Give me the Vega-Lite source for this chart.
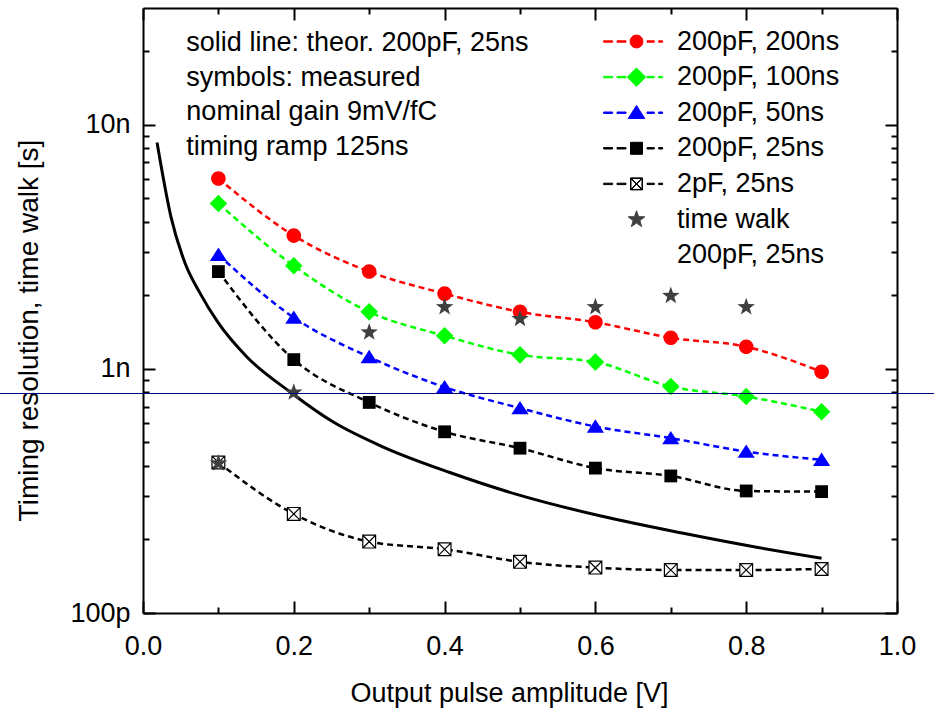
{
  "$schema": "https://vega.github.io/schema/vega-lite/v6.json",
  "width": 754,
  "height": 605,
  "autosize": {"type": "none"},
  "padding": {"left": 143, "top": 8, "right": 37, "bottom": 97},
  "background": "white",
  "config": {
    "view": {"stroke": null},
    "font": "Liberation Sans",
    "axis": {
      "domainColor": "black", "domainWidth": 2, "tickColor": "black", "tickWidth": 2,
      "labelFont": "Liberation Sans", "labelFontSize": 27, "labelColor": "black",
      "titleFont": "Liberation Sans", "titleFontSize": 28, "titleFontWeight": "normal", "titleColor": "black",
      "grid": false, "labelFlush": false, "labelOverlap": false
    },
    "legend": {"labelFont": "Liberation Sans", "labelColor": "black"}
  },
  "datasets": {
    "meas": [
      {"series": "200pF, 200ns", "amp": 0.1, "t": 6.01e-9},
      {"series": "200pF, 200ns", "amp": 0.2, "t": 3.51e-9},
      {"series": "200pF, 200ns", "amp": 0.3, "t": 2.50e-9},
      {"series": "200pF, 200ns", "amp": 0.4, "t": 2.03e-9},
      {"series": "200pF, 200ns", "amp": 0.5, "t": 1.71e-9},
      {"series": "200pF, 200ns", "amp": 0.6, "t": 1.55e-9},
      {"series": "200pF, 200ns", "amp": 0.7, "t": 1.34e-9},
      {"series": "200pF, 200ns", "amp": 0.8, "t": 1.23e-9},
      {"series": "200pF, 200ns", "amp": 0.9, "t": 0.972e-9},
      {"series": "200pF, 100ns", "amp": 0.1, "t": 4.75e-9},
      {"series": "200pF, 100ns", "amp": 0.2, "t": 2.64e-9},
      {"series": "200pF, 100ns", "amp": 0.3, "t": 1.71e-9},
      {"series": "200pF, 100ns", "amp": 0.4, "t": 1.365e-9},
      {"series": "200pF, 100ns", "amp": 0.5, "t": 1.14e-9},
      {"series": "200pF, 100ns", "amp": 0.6, "t": 1.065e-9},
      {"series": "200pF, 100ns", "amp": 0.7, "t": 0.846e-9},
      {"series": "200pF, 100ns", "amp": 0.8, "t": 0.770e-9},
      {"series": "200pF, 100ns", "amp": 0.9, "t": 0.667e-9},
      {"series": "200pF, 50ns", "amp": 0.1, "t": 2.93e-9},
      {"series": "200pF, 50ns", "amp": 0.2, "t": 1.62e-9},
      {"series": "200pF, 50ns", "amp": 0.3, "t": 1.117e-9},
      {"series": "200pF, 50ns", "amp": 0.4, "t": 0.841e-9},
      {"series": "200pF, 50ns", "amp": 0.5, "t": 0.690e-9},
      {"series": "200pF, 50ns", "amp": 0.6, "t": 0.580e-9},
      {"series": "200pF, 50ns", "amp": 0.7, "t": 0.520e-9},
      {"series": "200pF, 50ns", "amp": 0.8, "t": 0.458e-9},
      {"series": "200pF, 50ns", "amp": 0.9, "t": 0.424e-9},
      {"series": "200pF, 25ns", "amp": 0.1, "t": 2.50e-9},
      {"series": "200pF, 25ns", "amp": 0.2, "t": 1.09e-9},
      {"series": "200pF, 25ns", "amp": 0.3, "t": 0.728e-9},
      {"series": "200pF, 25ns", "amp": 0.4, "t": 0.552e-9},
      {"series": "200pF, 25ns", "amp": 0.5, "t": 0.473e-9},
      {"series": "200pF, 25ns", "amp": 0.6, "t": 0.392e-9},
      {"series": "200pF, 25ns", "amp": 0.7, "t": 0.364e-9},
      {"series": "200pF, 25ns", "amp": 0.8, "t": 0.316e-9},
      {"series": "200pF, 25ns", "amp": 0.9, "t": 0.314e-9},
      {"series": "2pF, 25ns", "amp": 0.1, "t": 0.413e-9},
      {"series": "2pF, 25ns", "amp": 0.2, "t": 0.2545e-9},
      {"series": "2pF, 25ns", "amp": 0.3, "t": 0.196e-9},
      {"series": "2pF, 25ns", "amp": 0.4, "t": 0.1824e-9},
      {"series": "2pF, 25ns", "amp": 0.5, "t": 0.162e-9},
      {"series": "2pF, 25ns", "amp": 0.6, "t": 0.1534e-9},
      {"series": "2pF, 25ns", "amp": 0.7, "t": 0.150e-9},
      {"series": "2pF, 25ns", "amp": 0.8, "t": 0.150e-9},
      {"series": "2pF, 25ns", "amp": 0.9, "t": 0.1515e-9}
    ],
    "theory": [
      {"amp": 0.0186, "t": 8.44e-9},
      {"amp": 0.037, "t": 4.2e-9},
      {"amp": 0.0557, "t": 2.71e-9},
      {"amp": 0.0756, "t": 2.04e-9},
      {"amp": 0.0999, "t": 1.54e-9},
      {"amp": 0.1375, "t": 1.12e-9},
      {"amp": 0.196, "t": 0.80e-9},
      {"amp": 0.2524, "t": 0.605e-9},
      {"amp": 0.3187, "t": 0.478e-9},
      {"amp": 0.407, "t": 0.376e-9},
      {"amp": 0.4956, "t": 0.306e-9},
      {"amp": 0.606, "t": 0.250e-9},
      {"amp": 0.7166, "t": 0.212e-9},
      {"amp": 0.805, "t": 0.188e-9},
      {"amp": 0.9, "t": 0.1676e-9}
    ],
    "walk": [
      {"amp": 0.1, "t": 0.41e-9},
      {"amp": 0.2, "t": 0.80e-9},
      {"amp": 0.3, "t": 1.41e-9},
      {"amp": 0.4, "t": 1.79e-9},
      {"amp": 0.5, "t": 1.60e-9},
      {"amp": 0.6, "t": 1.79e-9},
      {"amp": 0.7, "t": 1.99e-9},
      {"amp": 0.8, "t": 1.79e-9}
    ],
    "legendItems": [
      {"entry": "200pF, 200ns"},
      {"entry": "200pF, 100ns"},
      {"entry": "200pF, 50ns"},
      {"entry": "200pF, 25ns"},
      {"entry": "2pF, 25ns"},
      {"entry": "time walk"},
      {"entry": " 200pF, 25ns"}
    ]
  },
  "resolve": {"axis": {"x": "independent", "y": "independent"}, "scale": {"shape": "independent", "fill": "independent", "stroke": "independent"}},
  "layer": [
    {
      "data": {"name": "theory"},
      "mark": {"type": "line", "color": "black", "strokeWidth": 3, "interpolate": "monotone"},
      "encoding": {
        "x": {"field": "amp", "type": "quantitative", "scale": {"domain": [0, 1], "nice": false, "zero": false},
          "axis": {"orient": "bottom", "values": [0, 0.2, 0.4, 0.6, 0.8, 1], "format": ".1f", "ticks": false, "tickSize": 0, "labelPadding": 20, "title": "Output pulse amplitude [V]", "titleFontSize": 27, "titlePadding": 21, "titleX": 366}},
        "y": {"field": "t", "type": "quantitative", "scale": {"type": "log", "domain": [1e-10, 3e-8], "nice": false},
          "axis": {"orient": "left", "values": [1e-10, 1e-9, 1e-8], "labelExpr": "datum.value < 5e-10 ? '100p' : datum.value < 5e-9 ? '1n' : '10n'", "ticks": false, "tickSize": 0, "labelPadding": 13, "title": "Timing resolution, time walk [s]", "titlePadding": 26, "titleY": 322}}
      }
    },
    {
      "data": {"name": "meas"},
      "mark": {"type": "line", "strokeWidth": 2.5, "strokeDash": [6, 4], "interpolate": "monotone"},
      "encoding": {
        "x": {"field": "amp", "type": "quantitative", "scale": {"domain": [0, 1], "nice": false, "zero": false},
          "axis": {"orient": "bottom", "offset": -12, "values": [0, 0.2, 0.4, 0.6, 0.8, 1], "tickSize": 12, "labels": false, "domain": false, "title": null}},
        "y": {"field": "t", "type": "quantitative", "scale": {"type": "log", "domain": [1e-10, 3e-8], "nice": false},
          "axis": {"orient": "left", "offset": -12, "values": [1e-10, 1e-9, 1e-8], "tickSize": 12, "labels": false, "domain": false, "title": null}},
        "color": {"field": "series", "type": "nominal", "legend": null,
          "scale": {"domain": ["200pF, 200ns", "200pF, 100ns", "200pF, 50ns", "200pF, 25ns", "2pF, 25ns"], "range": ["#ff0000", "#00ff00", "#0000ff", "#000000", "#000000"]}},
        "detail": {"field": "series"}
      }
    },
    {
      "data": {"name": "meas"},
      "transform": [{"filter": "datum.series != '2pF, 25ns'"}],
      "mark": {"type": "point", "filled": true, "opacity": 1, "size": 400, "strokeWidth": 0},
      "encoding": {
        "x": {"field": "amp", "type": "quantitative", "scale": {"domain": [0, 1], "nice": false, "zero": false},
          "axis": {"orient": "bottom", "offset": -6, "values": [0.1, 0.3, 0.5, 0.7, 0.9], "tickSize": 6, "labels": false, "domain": false, "title": null}},
        "y": {"field": "t", "type": "quantitative", "scale": {"type": "log", "domain": [1e-10, 3e-8], "nice": false},
          "axis": {"orient": "left", "offset": -6, "values": [2e-10, 3e-10, 4e-10, 5e-10, 6e-10, 7e-10, 8e-10, 9e-10, 2e-9, 3e-9, 4e-9, 5e-9, 6e-9, 7e-9, 8e-9, 9e-9, 2e-8], "tickSize": 6, "labels": false, "domain": false, "title": null}},
        "color": {"field": "series", "type": "nominal", "legend": null,
          "scale": {"domain": ["200pF, 200ns", "200pF, 100ns", "200pF, 50ns", "200pF, 25ns", "2pF, 25ns"], "range": ["#ff0000", "#00ff00", "#0000ff", "#000000", "#000000"]}},
        "shape": {"field": "series", "type": "nominal", "legend": null,
          "scale": {"domain": ["200pF, 200ns", "200pF, 100ns", "200pF, 50ns", "200pF, 25ns"],
            "range": [
              "M0.73,0A0.73,0.73,0,1,1,-0.73,0A0.73,0.73,0,1,1,0.73,0Z",
              "M0,-0.88L0.88,0L0,0.88L-0.88,0Z",
              "M0,-0.72L0.86,0.62L-0.86,0.62Z",
              "M-0.64,-0.64H0.64V0.64H-0.64Z"
            ]}}
      }
    },
    {
      "data": {"name": "meas"},
      "transform": [{"filter": "datum.series == '2pF, 25ns'"}],
      "mark": {"type": "point", "opacity": 1, "size": 400, "fill": "white", "stroke": "black", "strokeWidth": 1.2,
        "shape": "M-0.64,-0.64H0.64V0.64H-0.64Z M-0.64,-0.64L0.64,0.64 M0.64,-0.64L-0.64,0.64"},
      "encoding": {
        "x": {"field": "amp", "type": "quantitative", "scale": {"domain": [0, 1], "nice": false, "zero": false},
          "axis": {"orient": "top", "values": [0, 0.2, 0.4, 0.6, 0.8, 1], "ticks": false, "labels": false, "domain": true, "title": null}},
        "y": {"field": "t", "type": "quantitative", "scale": {"type": "log", "domain": [1e-10, 3e-8], "nice": false},
          "axis": {"orient": "right", "values": [1e-10, 1e-9, 1e-8], "ticks": false, "labels": false, "domain": true, "title": null}}
      }
    },
    {
      "data": {"name": "walk"},
      "mark": {"type": "point", "filled": true, "opacity": 1, "size": 400, "color": "#404040", "strokeWidth": 0,
        "shape": "M0,-0.92L0.2175,-0.299L0.875,-0.284L0.352,0.114L0.541,0.744L0,0.37L-0.541,0.744L-0.352,0.114L-0.875,-0.284L-0.2175,-0.299Z"},
      "encoding": {
        "x": {"field": "amp", "type": "quantitative", "scale": {"domain": [0, 1], "nice": false, "zero": false},
          "axis": {"orient": "top", "offset": -12, "values": [0, 0.2, 0.4, 0.6, 0.8, 1], "tickSize": 12, "labels": false, "domain": false, "title": null}},
        "y": {"field": "t", "type": "quantitative", "scale": {"type": "log", "domain": [1e-10, 3e-8], "nice": false},
          "axis": {"orient": "right", "offset": -12, "values": [1e-10, 1e-9, 1e-8], "tickSize": 12, "labels": false, "domain": false, "title": null}}
      }
    },
    {
      "data": {"values": [{"lo": -0.19, "hi": 1.05, "level": 7.92e-10}]},
      "mark": {"type": "rule", "color": "#000080", "strokeWidth": 1},
      "encoding": {
        "x": {"field": "lo", "type": "quantitative", "scale": {"domain": [0, 1], "nice": false, "zero": false},
          "axis": {"orient": "top", "offset": -6, "values": [0.1, 0.3, 0.5, 0.7, 0.9], "tickSize": 6, "labels": false, "domain": false, "title": null}},
        "x2": {"field": "hi"},
        "y": {"field": "level", "type": "quantitative", "scale": {"type": "log", "domain": [1e-10, 3e-8], "nice": false},
          "axis": {"orient": "right", "offset": -6, "values": [2e-10, 3e-10, 4e-10, 5e-10, 6e-10, 7e-10, 8e-10, 9e-10, 2e-9, 3e-9, 4e-9, 5e-9, 6e-9, 7e-9, 8e-9, 9e-9, 2e-8], "tickSize": 6, "labels": false, "domain": false, "title": null}}
      }
    },
    {
      "data": {"values": [{"ax": 0.0575, "ty": 2e-8}]},
      "mark": {"type": "text", "align": "left", "baseline": "alphabetic", "fontSize": 27, "lineHeight": 34.5, "font": "Liberation Sans", "color": "black",
        "text": ["solid line: theor. 200pF, 25ns", "symbols: measured", "nominal gain 9mV/fC", "timing ramp 125ns"]},
      "encoding": {
        "x": {"field": "ax", "type": "quantitative", "scale": {"domain": [0, 1], "nice": false, "zero": false}, "axis": null},
        "y": {"field": "ty", "type": "quantitative", "scale": {"type": "log", "domain": [1e-10, 3e-8], "nice": false}, "axis": null}
      }
    },
    {
      "data": {"name": "legendItems"},
      "mark": {"type": "point", "filled": true, "opacity": 0, "size": 400, "strokeWidth": 1},
      "encoding": {
        "shape": {"field": "entry", "type": "nominal",
          "scale": {"domain": ["200pF, 200ns", "200pF, 100ns", "200pF, 50ns", "200pF, 25ns", "2pF, 25ns", "time walk", " 200pF, 25ns"],
            "range": [
              "M-3.29,-0.07H-2.39V0.07H-3.29Z M-1.95,-0.07H-1.05V0.07H-1.95Z M1.05,-0.07H1.78V0.07H1.05Z M2.21,-0.07H2.61V0.07H2.21Z M0.64,0A0.64,0.64,0,1,1,-0.64,0A0.64,0.64,0,1,1,0.64,0Z",
              "M-3.29,-0.07H-2.39V0.07H-3.29Z M-1.95,-0.07H-1.05V0.07H-1.95Z M1.05,-0.07H1.78V0.07H1.05Z M2.21,-0.07H2.61V0.07H2.21Z M0,-0.92L0.92,0L0,0.92L-0.92,0Z",
              "M-3.29,-0.07H-2.39V0.07H-3.29Z M-1.95,-0.07H-1.05V0.07H-1.95Z M1.05,-0.07H1.78V0.07H1.05Z M2.21,-0.07H2.61V0.07H2.21Z M0,-0.72L0.83,0.58L-0.83,0.58Z",
              "M-3.29,-0.07H-2.39V0.07H-3.29Z M-1.95,-0.07H-1.05V0.07H-1.95Z M1.05,-0.07H1.78V0.07H1.05Z M2.21,-0.07H2.61V0.07H2.21Z M-0.6,-0.6H0.6V0.6H-0.6Z",
              "M-3.29,-0.07H-2.39V0.07H-3.29Z M-1.95,-0.07H-1.05V0.07H-1.95Z M1.05,-0.07H1.78V0.07H1.05Z M2.21,-0.07H2.61V0.07H2.21Z M-0.6,-0.6H0.6V0.6H-0.6Z M-0.55,-0.55V0.55H0.55V-0.55Z M-0.55,-0.51L-0.51,-0.55L0.55,0.51L0.51,0.55Z M-0.51,0.55L-0.55,0.51L0.51,-0.55L0.55,-0.51Z",
              "M0,-0.874L0.207,-0.284L0.831,-0.27L0.335,0.108L0.514,0.707L0,0.352L-0.514,0.707L-0.335,0.108L-0.831,-0.27L-0.207,-0.284Z",
              "M0,0Z"
            ]},
          "legend": {"orient": "none", "legendX": 480, "legendY": 20, "title": null, "padding": 0, "symbolSize": 400, "symbolStrokeWidth": 1, "symbolOpacity": 1,
            "labelFontSize": 27, "labelOffset": 27, "labelLimit": 0, "rowPadding": 7.6, "labelExpr": "trim(datum.label)"}},
        "fill": {"field": "entry", "type": "nominal",
          "scale": {"domain": ["200pF, 200ns", "200pF, 100ns", "200pF, 50ns", "200pF, 25ns", "2pF, 25ns", "time walk", " 200pF, 25ns"],
            "range": ["#ff0000", "#00ff00", "#0000ff", "#000000", "#000000", "#404040", "#ffffff"]},
          "legend": {"orient": "none", "legendX": 480, "legendY": 20, "title": null, "padding": 0, "symbolSize": 400, "symbolStrokeWidth": 1, "symbolOpacity": 1,
            "labelFontSize": 27, "labelOffset": 27, "labelLimit": 0, "rowPadding": 7.6, "labelExpr": "trim(datum.label)"}},
        "stroke": {"field": "entry", "type": "nominal",
          "scale": {"domain": ["200pF, 200ns", "200pF, 100ns", "200pF, 50ns", "200pF, 25ns", "2pF, 25ns", "time walk", " 200pF, 25ns"],
            "range": ["#ff0000", "#00ff00", "#0000ff", "#000000", "#000000", "#404040", "#ffffff"]},
          "legend": {"orient": "none", "legendX": 480, "legendY": 20, "title": null, "padding": 0, "symbolSize": 400, "symbolStrokeWidth": 1, "symbolOpacity": 1,
            "labelFontSize": 27, "labelOffset": 27, "labelLimit": 0, "rowPadding": 7.6, "labelExpr": "trim(datum.label)"}}
      }
    }
  ]
}
